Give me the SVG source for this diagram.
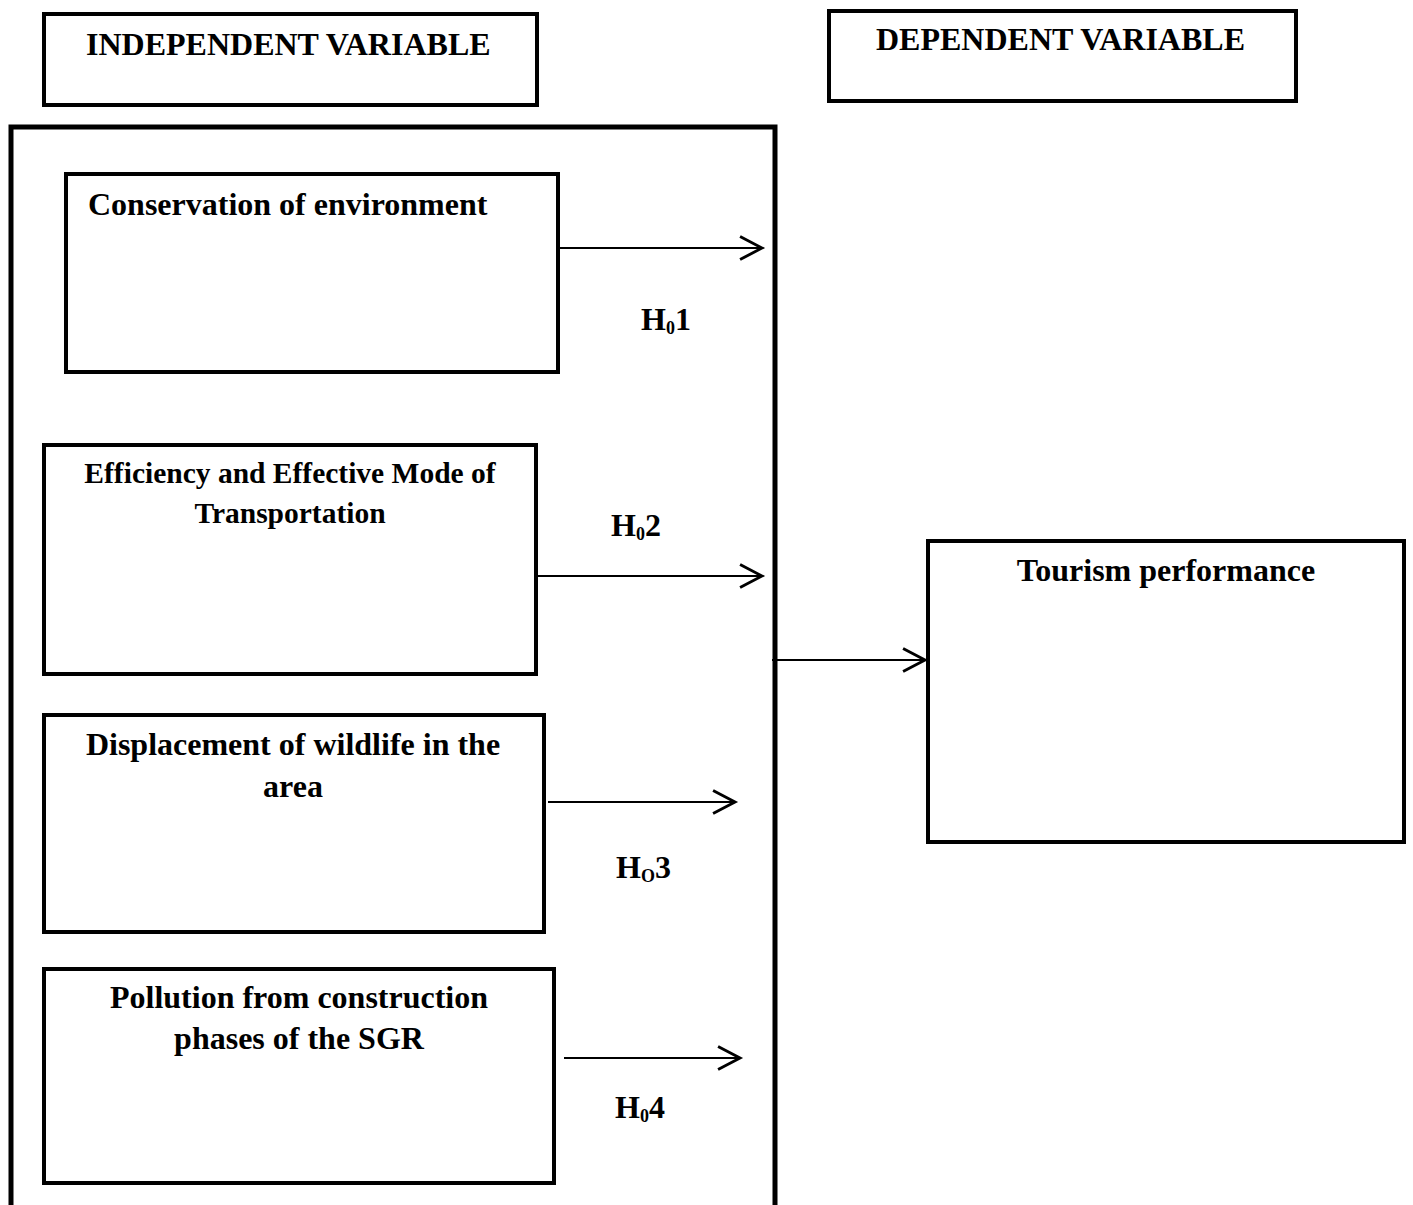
<svg xmlns="http://www.w3.org/2000/svg" width="1413" height="1205" viewBox="0 0 1413 1205">
<style>
.box{fill:none;stroke:#000;stroke-width:4}
.outer{fill:none;stroke:#000;stroke-width:5}
.t{font-family:"Liberation Serif","Times New Roman",serif;font-weight:bold;font-size:32px;fill:#000}
.s{font-size:29.5px}
.c{text-anchor:middle}
.sub{font-size:18px}
.conn{stroke:#000;stroke-width:2;fill:none}
</style>
<defs>
<marker id="arr" markerUnits="userSpaceOnUse" markerWidth="30" markerHeight="30" viewBox="-22 -13 26 26" refX="0" refY="0" orient="auto">
<path d="M-19,-10 L0,0 L-19,10" fill="none" stroke="#000" stroke-width="2.5"/>
</marker>
</defs>
<rect width="1413" height="1205" fill="#fff"/>
<g id="independent-header">
<rect class="box" x="44" y="14" width="493" height="91"/>
<text class="t" x="86" y="55">INDEPENDENT VARIABLE</text>
</g>
<g id="dependent-header">
<rect class="box" x="829" y="11" width="467" height="90"/>
<text class="t" x="876" y="50">DEPENDENT VARIABLE</text>
</g>
<g id="independent-group">
<path class="outer" d="M11,1212 L11,127 L775,127 L775,1212"/>
</g>
<g id="conservation">
<rect class="box" x="66" y="174" width="492" height="198"/>
<text class="t" x="88" y="215">Conservation of environment</text>
</g>
<g id="efficiency">
<rect class="box" x="44" y="445" width="492" height="229"/>
<text class="t s c" x="290" y="483">Efficiency and Effective Mode of</text>
<text class="t s c" x="290" y="523">Transportation</text>
</g>
<g id="displacement">
<rect class="box" x="44" y="715" width="500" height="217"/>
<text class="t c" x="293" y="755">Displacement of wildlife in the</text>
<text class="t c" x="293" y="797">area</text>
</g>
<g id="pollution">
<rect class="box" x="44" y="969" width="510" height="214"/>
<text class="t c" x="299" y="1008">Pollution from construction</text>
<text class="t c" x="299" y="1049">phases of the SGR</text>
</g>
<g id="tourism">
<rect class="box" x="928" y="541" width="476" height="301"/>
<text class="t c" x="1166" y="581">Tourism performance</text>
</g>
<g id="connectors">
<line class="conn" x1="560" y1="248" x2="762" y2="248" marker-end="url(#arr)"/>
<line class="conn" x1="538" y1="576" x2="762" y2="576" marker-end="url(#arr)"/>
<line class="conn" x1="548" y1="802" x2="735" y2="802" marker-end="url(#arr)"/>
<line class="conn" x1="564" y1="1058" x2="740" y2="1058" marker-end="url(#arr)"/>
<line class="conn" x1="772" y1="660" x2="925" y2="660" marker-end="url(#arr)"/>
</g>
<g id="labels">
<text class="t" x="641" y="330">H<tspan class="sub" dy="4">0</tspan><tspan dy="-4">1</tspan></text>
<text class="t" x="611" y="536">H<tspan class="sub" dy="4">0</tspan><tspan dy="-4">2</tspan></text>
<text class="t" x="616" y="878">H<tspan class="sub" dy="4">O</tspan><tspan dy="-4">3</tspan></text>
<text class="t" x="615" y="1118">H<tspan class="sub" dy="4">0</tspan><tspan dy="-4">4</tspan></text>
</g>
</svg>
